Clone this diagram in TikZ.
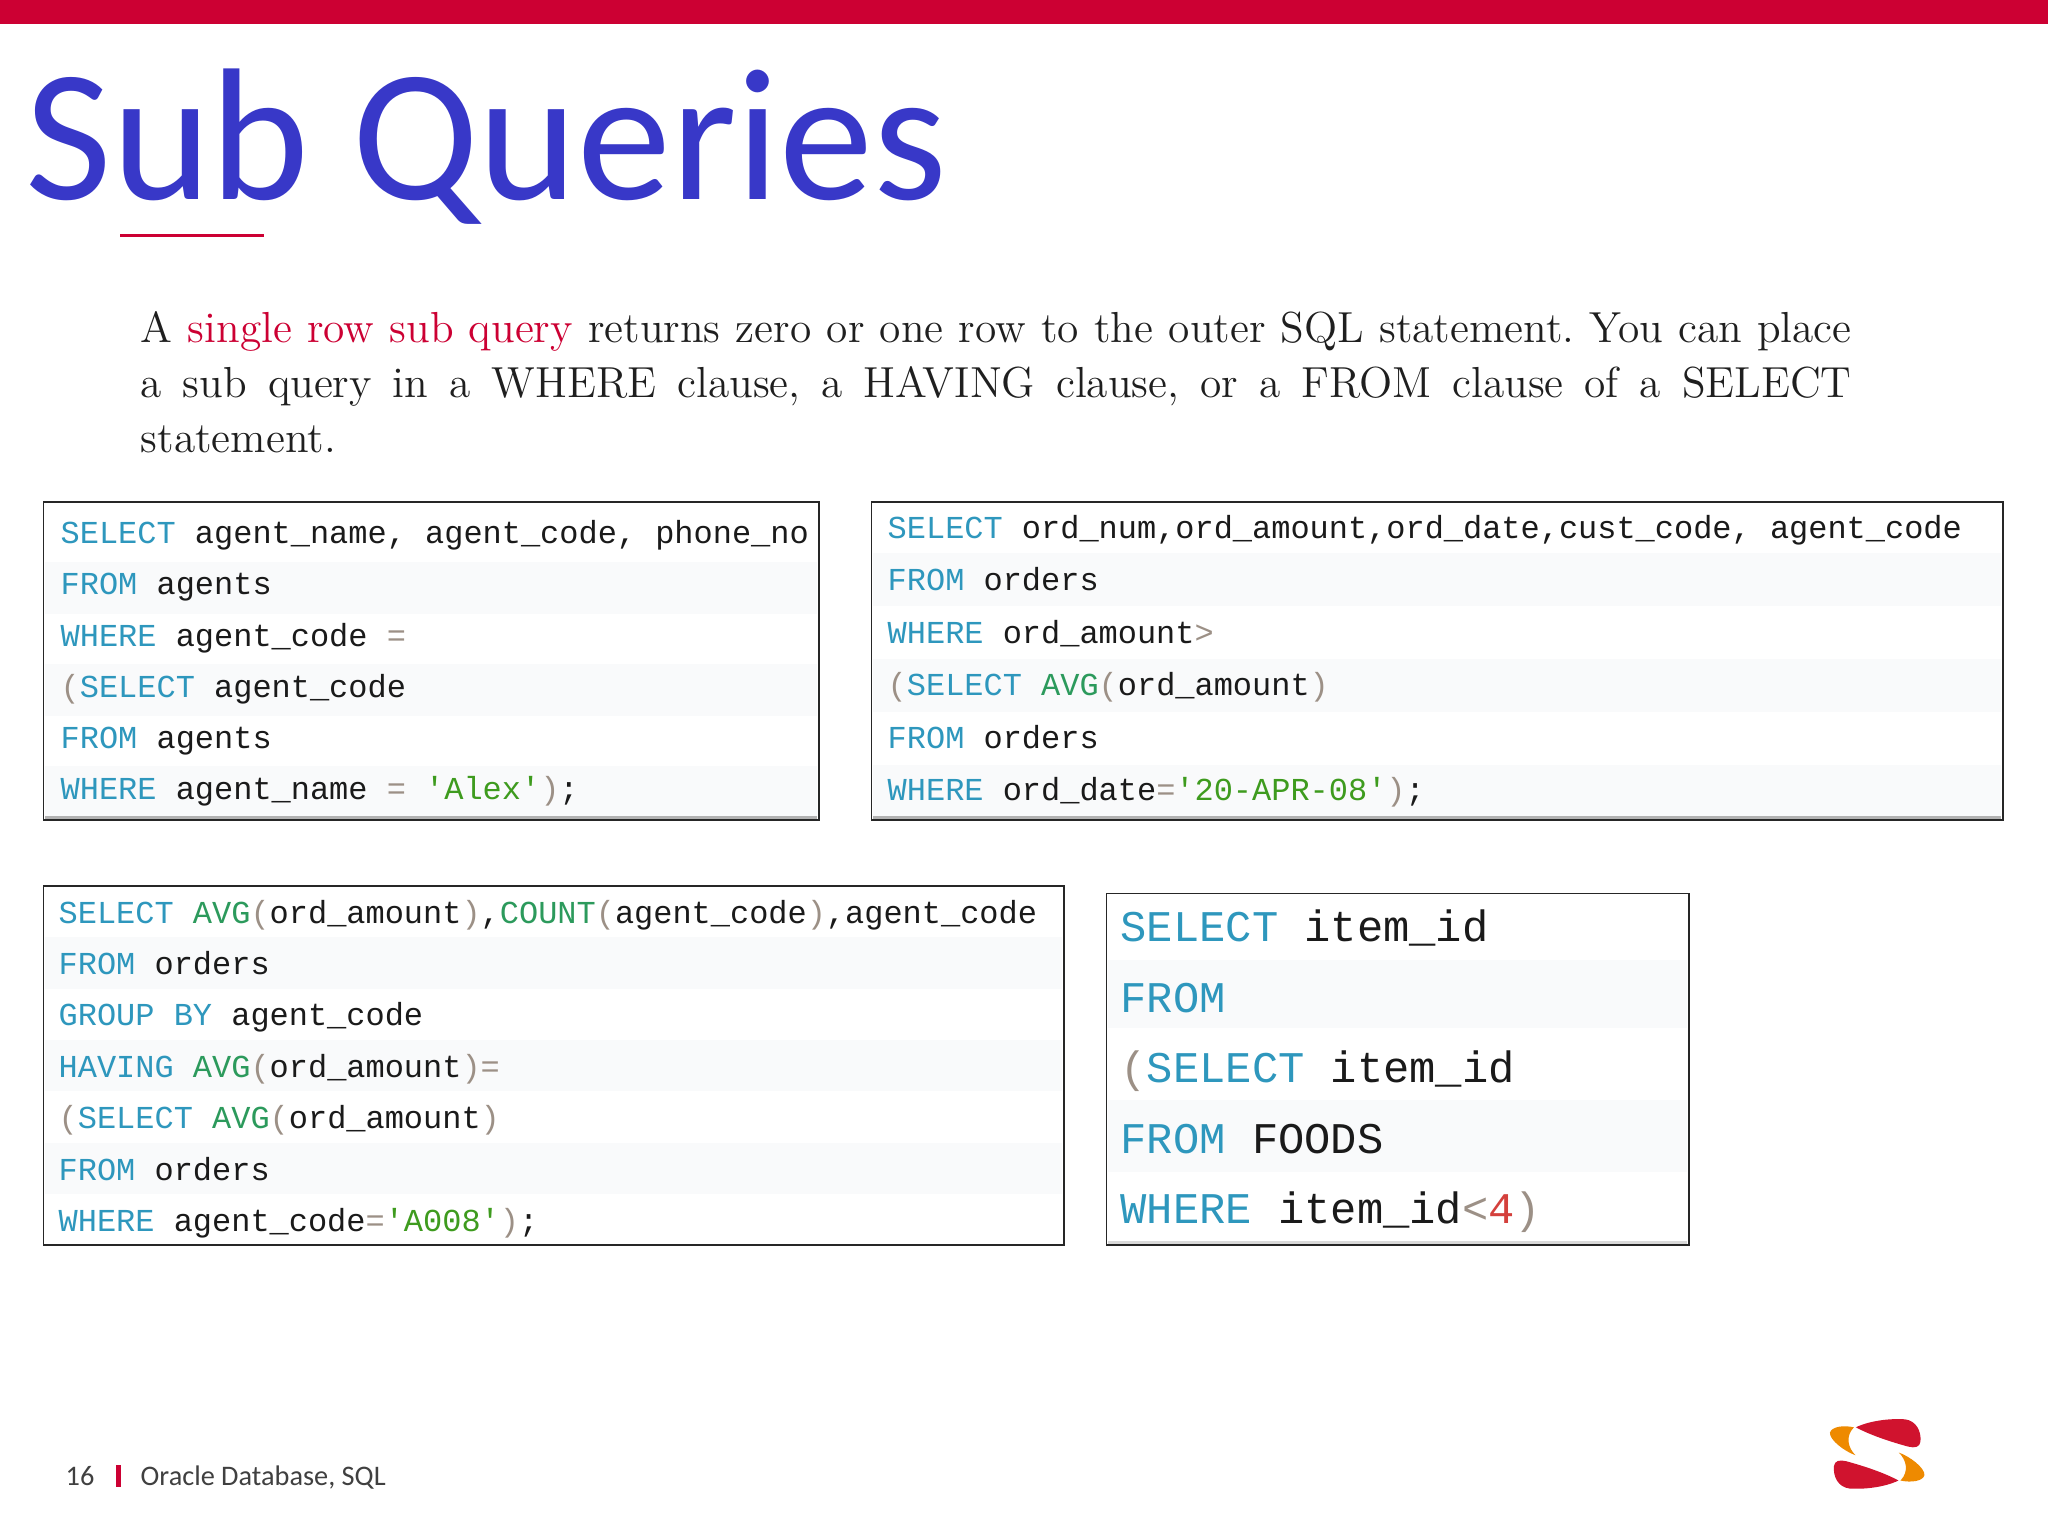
\documentclass[tikz,border=0pt]{standalone}
\usepackage{fontspec}
\newfontfamily\titlefont{Carlito}
\newfontfamily\codefont{Liberation Mono}
\definecolor{brandred}{HTML}{CC0033}
\definecolor{titleblue}{HTML}{3838C8}
\definecolor{kw}{HTML}{2E97BD}
\definecolor{fn}{HTML}{2C9A5C}
\definecolor{strc}{HTML}{3E9B1E}
\definecolor{opc}{HTML}{9C9086}
\definecolor{numc}{HTML}{D4403C}
\definecolor{idc}{HTML}{1A1A1A}
\definecolor{band}{HTML}{F9FAFB}
\definecolor{logored}{HTML}{D0132E}
\definecolor{logoorange}{HTML}{EE8A00}
\newcommand{\K}[1]{\textcolor{kw}{#1}}
\newcommand{\Fn}[1]{\textcolor{fn}{#1}}
\newcommand{\St}[1]{\textcolor{strc}{#1}}
\newcommand{\Op}[1]{\textcolor{opc}{#1}}
\newcommand{\Nm}[1]{\textcolor{numc}{#1}}
\newcommand{\U}{\_}
\tikzset{
  codetext/.style={anchor=base west,inner sep=0pt,text=idc,font=\codefont\fontsize{9.09}{11}\selectfont},
  bigcode/.style={anchor=base west,inner sep=0pt,text=idc,font=\codefont\fontsize{12.45}{15}\selectfont},
  framebox/.style={draw=black!85,line width=1.9*0.2845pt},
  footer/.style={anchor=base west,inner sep=0pt,text=black!75,font=\titlefont\fontsize{8.05}{9}\selectfont}
}
\begin{document}
\begin{tikzpicture}[x=0.01cm,y=-0.01cm]
\useasboundingbox (0,0) rectangle (2048,1536);
\fill[white] (0,0) rectangle (2048,1536);
\fill[brandred] (0,0) rectangle (2048,24);
\node[anchor=base west,inner sep=0pt,text=titleblue,font=\titlefont\fontsize{53.5}{60}\selectfont] (title) at (25,199) {Sub Queries};
\draw[brandred,line width=0.85pt] (120,235.5) -- (264,235.5);
\node[anchor=base west,inner sep=0pt,text width=17.1cm,align=justify,text=black!88,font=\fontsize{12.35}{15.65}\selectfont\frenchspacing] (para) at (140,342)
  {A \textcolor{brandred}{single row sub query} returns zero or one row to the outer SQL statement. You can place\linebreak a sub query in a WHERE clause, a HAVING clause, or a FROM clause of a SELECT\linebreak statement.};
% box 1
\foreach \a/\b in {562/614,664/716,766/816}{\fill[band] (45,\a) rectangle (817,\b);}
\fill[black!30] (45,816) rectangle (817,819);
\node[codetext] (a1) at (60,543) {\K{SELECT} agent\U name, agent\U code, phone\U no};
\node[codetext] (a2) at (60,594) {\K{FROM} agents};
\node[codetext] (a3) at (60,646) {\K{WHERE} agent\U code \Op{=}};
\node[codetext] (a4) at (60,697) {\Op{(}\K{SELECT} agent\U code};
\node[codetext] (a5) at (60,748) {\K{FROM} agents};
\node[codetext] (a6) at (60,799) {\K{WHERE} agent\U name \Op{=} \St{'Alex'}\Op{)};};
\draw[framebox] (43.5,502) rectangle (819,820);
% box 2
\foreach \a/\b in {553/606,659/712,765/816}{\fill[band] (873,\a) rectangle (2001,\b);}
\fill[black!30] (873,816) rectangle (2001,819);
\node[codetext] (b1) at (887,538) {\K{SELECT} ord\U num,ord\U amount,ord\U date,cust\U code, agent\U code};
\node[codetext] (b2) at (887,590.5) {\K{FROM} orders};
\node[codetext] (b3) at (887,643) {\K{WHERE} ord\U amount\Op{>}};
\node[codetext] (b4) at (887,695.5) {\Op{(}\K{SELECT} \Fn{AVG}\Op{(}ord\U amount\Op{)}};
\node[codetext] (b5) at (887,748) {\K{FROM} orders};
\node[codetext] (b6) at (887,800.5) {\K{WHERE} ord\U date\Op{=}\St{'20-APR-08'}\Op{)};};
\draw[framebox] (871.5,502) rectangle (2003,820);
% box 3
\foreach \a/\b in {937/989,1040/1091,1143/1194}{\fill[band] (45,\a) rectangle (1062,\b);}
\node[codetext] (c1) at (58,923) {\K{SELECT} \Fn{AVG}\Op{(}ord\U amount\Op{)},\Fn{COUNT}\Op{(}agent\U code\Op{)},agent\U code};
\node[codetext] (c2) at (58,974.4) {\K{FROM} orders};
\node[codetext] (c3) at (58,1025.8) {\K{GROUP BY} agent\U code};
\node[codetext] (c4) at (58,1077.2) {\K{HAVING} \Fn{AVG}\Op{(}ord\U amount\Op{)=}};
\node[codetext] (c5) at (58,1128.6) {\Op{(}\K{SELECT} \Fn{AVG}\Op{(}ord\U amount\Op{)}};
\node[codetext] (c6) at (58,1180) {\K{FROM} orders};
\node[codetext] (c7) at (58,1231.4) {\K{WHERE} agent\U code\Op{=}\St{'A008'}\Op{)};};
\draw[framebox] (43.5,886) rectangle (1064,1245);
% box 4
\foreach \a/\b in {960/1028,1100/1172}{\fill[band] (1108,\a) rectangle (1687,\b);}
\fill[black!15] (1108,1241) rectangle (1687,1244);
\node[bigcode] (d1) at (1120,941) {\K{SELECT} item\U id};
\node[bigcode] (d2) at (1120,1012) {\K{FROM}};
\node[bigcode] (d3) at (1120,1082) {\Op{(}\K{SELECT} item\U id};
\node[bigcode] (d4) at (1120,1153) {\K{FROM} FOODS};
\node[bigcode] (d5) at (1120,1223) {\K{WHERE} item\U id\Op{<}\Nm{4}\Op{)}};
\draw[framebox] (1106.5,893.5) rectangle (1689,1245);
% footer
\node[footer] (pg) at (65,1485) {16};
\fill[brandred] (116,1465) rectangle (121,1487);
\node[footer] (ft) at (140,1485) {Oracle Database, SQL};
% logo
\begin{scope}[shift={(1780,1390)},x=0.003333cm,y=-0.003333cm]
\foreach \r in {0,180}{
\begin{scope}[rotate around={\r:(292,192)}]
\fill[logored] (228,112) .. controls (270,92) and (330,85) .. (375,88) .. controls (410,92) and (425,125) .. (422,155) .. controls (420,172) and (405,175) .. (385,170) .. controls (330,155) and (270,135) .. (228,112) -- cycle;
\fill[logoorange] (222,112) .. controls (190,105) and (155,110) .. (150,128) .. controls (148,150) and (195,185) .. (227,196) .. controls (205,175) and (195,140) .. (222,112) -- cycle;
\end{scope}}
\end{scope}
\end{tikzpicture}
\end{document}
